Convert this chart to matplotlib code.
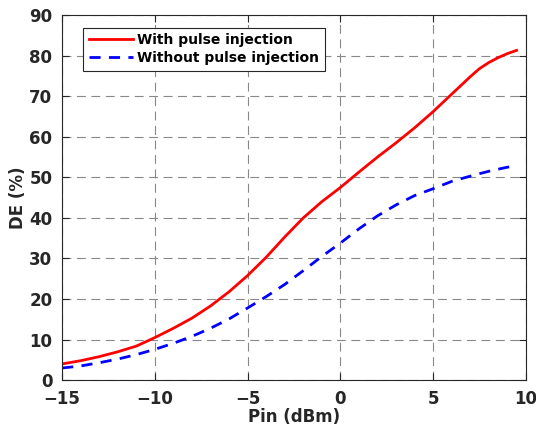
import numpy as np
import matplotlib
matplotlib.use("Agg")
import matplotlib.pyplot as plt

pin = [-15, -14, -13, -12, -11, -10, -9, -8, -7, -6, -5, -4, -3, -2, -1,
       0, 1, 2, 3, 4, 5, 6, 7, 7.5, 8, 8.5, 9, 9.5]
de_pulse = [4.0, 4.8, 5.8, 7.0, 8.4, 10.5, 12.8, 15.3, 18.3, 21.8, 25.8, 30.3,
            35.3, 40.0, 44.0, 47.5, 51.3, 55.0, 58.5, 62.2, 66.2, 70.5, 74.8,
            76.8, 78.3, 79.5, 80.5, 81.3]
de_nopulse = [3.0, 3.5, 4.3, 5.2, 6.3, 7.6, 9.1, 10.8, 12.8, 15.1, 17.8, 20.6,
              23.6, 27.0, 30.5, 33.8, 37.3, 40.5, 43.2, 45.5, 47.2, 49.0, 50.3,
              50.9, 51.5, 52.0, 52.5, 52.9]

plt.rcParams['font.family'] = 'DejaVu Sans'
plt.rcParams['font.weight'] = 'bold'

fig = plt.figure(figsize=(5.36, 4.32), dpi=100)
ax = fig.add_axes([0.116, 0.12, 0.865, 0.845])

ax.plot(pin, de_pulse, color='#ff0000', lw=2, label='With pulse injection')
ax.plot(pin, de_nopulse, color='#0000ff', lw=2, ls=(0, (4, 3)),
        label='Without pulse injection')

ax.set_xlim(-15, 10)
ax.set_ylim(0, 90)
ax.set_xticks(np.arange(-15, 11, 5))
ax.set_yticks(np.arange(0, 91, 10))
ax.set_xticklabels(['\u221215', '\u221210', '\u22125', '0', '5', '10'])
ax.tick_params(direction='in', top=True, right=True, labelsize=12,
               colors='#262626', length=5)
ax.tick_params(axis='x', pad=7)
ax.tick_params(axis='y', pad=7)
ax.grid(True, ls=(0, (8, 5)), color='#888888', lw=0.8)
for s in ax.spines.values():
    s.set_color('#262626')
ax.set_xlabel('Pin (dBm)', fontsize=12, fontweight='bold', color='#262626',
              labelpad=0)
ax.set_ylabel('DE (%)', fontsize=12, fontweight='bold', color='#262626',
              labelpad=2)

leg = ax.legend(loc='upper left', bbox_to_anchor=(0.03, 0.985), fontsize=10,
                fancybox=False, framealpha=1, edgecolor='#262626',
                handlelength=3.2, handletextpad=0.3, borderpad=0.4,
                labelspacing=0.3)
leg.get_frame().set_linewidth(0.8)

fig.savefig('out.png', dpi=100)
